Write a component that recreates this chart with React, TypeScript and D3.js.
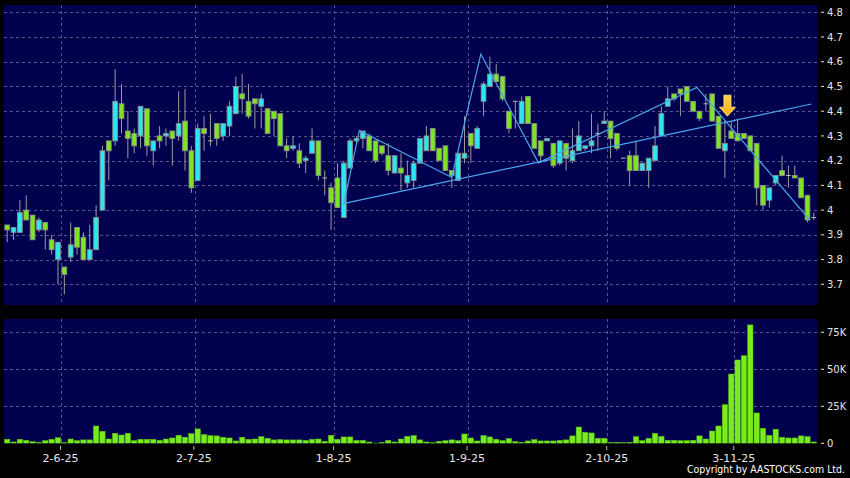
import * as d3 from 'd3'

// daily candles, oldest first
const OPEN = [
  3.94, 3.91, 3.91, 4.0, 3.98, 3.92, 3.95, 3.88, 3.8, 3.77, 3.81, 3.93, 3.89, 3.8,
  3.84, 4.0, 4.28, 4.28, 4.43, 4.32, 4.31, 4.3, 4.41, 4.24, 4.3, 4.3, 4.32, 4.3,
  4.36, 4.24, 4.12, 4.33, 4.28, 4.35, 4.3, 4.34, 4.39, 4.47, 4.44, 4.45, 4.42, 4.41,
  4.4, 4.39, 4.26, 4.25, 4.24, 4.2, 4.23, 4.28, 4.13, 4.09, 4.13, 3.97, 4.17, 4.28,
  4.29, 4.3, 4.28, 4.26, 4.22, 4.15, 4.17, 4.11, 4.12, 4.19, 4.24, 4.33, 4.25, 4.26,
  4.16, 4.12, 4.21, 4.31, 4.25, 4.44, 4.5, 4.55, 4.54, 4.4, 4.44, 4.35, 4.46, 4.35,
  4.28, 4.28, 4.27, 4.19, 4.27, 4.2, 4.24, 4.25, 4.26, 4.31, 4.35, 4.36, 4.31, 4.21,
  4.22, 4.22, 4.16, 4.16, 4.2, 4.3, 4.42, 4.47, 4.49, 4.5, 4.44, 4.4, 4.43, 4.47,
  4.38, 4.24, 4.32, 4.31, 4.31, 4.3, 4.27, 4.1, 4.04, 4.11, 4.16, 4.14, 4.14, 4.13,
  4.06, 3.97,
]
const HIGH = [
  3.94, 3.93, 4.04, 4.06, 3.98, 3.97, 3.95, 3.9, 3.87, 3.77, 3.95, 3.93, 3.91, 3.94,
  4.02, 4.26, 4.28, 4.57, 4.51, 4.4, 4.33, 4.42, 4.41, 4.28, 4.34, 4.33, 4.32, 4.48,
  4.49, 4.26, 4.35, 4.38, 4.39, 4.35, 4.35, 4.44, 4.54, 4.55, 4.51, 4.45, 4.47, 4.41,
  4.4, 4.39, 4.29, 4.3, 4.27, 4.22, 4.33, 4.28, 4.16, 4.11, 4.19, 4.2, 4.29, 4.3,
  4.32, 4.31, 4.28, 4.26, 4.27, 4.22, 4.23, 4.2, 4.2, 4.29, 4.34, 4.33, 4.25, 4.26,
  4.16, 4.23, 4.38, 4.31, 4.34, 4.52, 4.62, 4.59, 4.54, 4.4, 4.44, 4.46, 4.46, 4.35,
  4.28, 4.29, 4.27, 4.28, 4.27, 4.33, 4.36, 4.26, 4.39, 4.35, 4.4, 4.36, 4.31, 4.21,
  4.24, 4.28, 4.19, 4.21, 4.34, 4.42, 4.5, 4.47, 4.49, 4.5, 4.44, 4.4, 4.47, 4.47,
  4.38, 4.36, 4.36, 4.37, 4.31, 4.3, 4.27, 4.1, 4.09, 4.14, 4.22, 4.18, 4.18, 4.13,
  4.06, 3.99,
]
const LOW = [
  3.87, 3.88, 3.91, 3.96, 3.88, 3.91, 3.84, 3.82, 3.7, 3.66, 3.79, 3.82, 3.8, 3.8,
  3.84, 4.0, 4.12, 4.26, 4.31, 4.21, 4.23, 4.25, 4.22, 4.18, 4.25, 4.26, 4.18, 4.28,
  4.16, 4.07, 4.12, 4.24, 4.26, 4.26, 4.28, 4.3, 4.39, 4.39, 4.37, 4.33, 4.33, 4.31,
  4.3, 4.26, 4.21, 4.24, 4.17, 4.15, 4.23, 4.12, 4.06, 3.92, 4.01, 3.97, 4.17, 4.27,
  4.25, 4.24, 4.19, 4.22, 4.14, 4.15, 4.08, 4.09, 4.09, 4.19, 4.24, 4.24, 4.2, 4.16,
  4.09, 4.12, 4.19, 4.19, 4.25, 4.38, 4.5, 4.52, 4.44, 4.31, 4.33, 4.35, 4.35, 4.25,
  4.19, 4.28, 4.17, 4.18, 4.16, 4.19, 4.24, 4.24, 4.23, 4.24, 4.35, 4.21, 4.24, 4.21,
  4.1, 4.16, 4.16, 4.09, 4.2, 4.3, 4.42, 4.44, 4.38, 4.44, 4.4, 4.36, 4.4, 4.36,
  4.25, 4.13, 4.29, 4.28, 4.29, 4.24, 4.02, 4.0, 4.01, 4.1, 4.14, 4.09, 4.13, 4.05,
  3.95, 3.96,
]
const CLOSE = [
  3.92, 3.93, 3.99, 3.96, 3.88, 3.96, 3.92, 3.84, 3.87, 3.74, 3.86, 3.85, 3.8, 3.84,
  3.97, 4.24, 4.24, 4.44, 4.37, 4.29, 4.26, 4.42, 4.26, 4.28, 4.28, 4.31, 4.29, 4.35,
  4.24, 4.09, 4.33, 4.31, 4.28, 4.29, 4.35, 4.42, 4.5, 4.45, 4.38, 4.43, 4.45, 4.31,
  4.37, 4.26, 4.24, 4.26, 4.19, 4.21, 4.28, 4.14, 4.13, 4.03, 4.01, 4.19, 4.28, 4.29,
  4.32, 4.24, 4.2, 4.23, 4.16, 4.22, 4.15, 4.14, 4.19, 4.29, 4.3, 4.24, 4.2, 4.16,
  4.14, 4.23, 4.23, 4.26, 4.33, 4.51, 4.55, 4.52, 4.45, 4.33, 4.44, 4.44, 4.35, 4.25,
  4.22, 4.29, 4.18, 4.28, 4.21, 4.24, 4.3, 4.26, 4.28, 4.31, 4.36, 4.29, 4.25, 4.21,
  4.16, 4.16, 4.19, 4.21, 4.26, 4.39, 4.45, 4.45, 4.47, 4.44, 4.4, 4.37, 4.43, 4.36,
  4.25, 4.27, 4.29, 4.28, 4.29, 4.24, 4.09, 4.02, 4.09, 4.14, 4.14, 4.14, 4.13, 4.05,
  3.96, 3.97,
]
// thousands of shares
const VOLUME = [
  2.7, 0.9, 2.7, 2.0, 1.1, 0.7, 1.8, 2.7, 3.8, 0.5, 2.9, 1.8, 2.3, 2.3,
  11.7, 8.1, 2.9, 6.8, 5.6, 6.8, 1.8, 2.7, 2.7, 2.7, 2.0, 2.9, 3.6, 5.4,
  4.1, 6.5, 9.7, 5.9, 5.2, 5.0, 4.1, 3.6, 1.6, 4.1, 2.7, 2.9, 4.5, 3.4,
  2.3, 2.5, 2.3, 2.3, 2.3, 2.0, 2.7, 2.9, 1.4, 5.4, 2.7, 4.3, 4.3, 2.0,
  2.0, 0.9, 0.2, 0.7, 2.0, 0.9, 2.9, 4.7, 5.2, 2.3,
  0.9, 0.5, 1.4, 1.8, 2.3, 1.8, 6.3, 3.6, 1.6, 5.2, 4.3, 2.7, 1.8, 3.2,
  1.1, 0.7, 1.6, 2.5, 1.6, 1.6, 1.6, 2.0, 2.3, 5.0, 11.0, 7.4, 7.0, 3.4,
  3.4, 0.5, 0.7, 0.5, 0.7, 4.5, 1.8, 3.4, 6.8, 4.7, 2.0, 2.0, 1.8, 1.8,
  2.0, 5.0, 2.9, 8.3, 11.7, 26.1, 46.8, 56.3, 59.2, 80.0, 20.5, 10.1, 5.4, 9.5,
  4.1, 3.6, 3.6, 5.0, 4.5, 0.9,
]

const DATE_TICKS = [8, 29, 51, 72, 94, 114]
const DATE_LABELS = ['2-6-25', '2-7-25', '1-8-25', '1-9-25', '2-10-25', '3-11-25']
const PRICE_TICKS = [3.7, 3.8, 3.9, 4.0, 4.1, 4.2, 4.3, 4.4, 4.5, 4.6, 4.7, 4.8]
const VOL_TICKS = [0, 25, 50, 75]

// drawn lines, in (candle index, price)
const TREND_I = [52.9, 126.6]
const TREND_P = [4.026, 4.429]
const ZIGZAG_I = [53.0, 55.45, 70.0, 74.57, 83.64, 108.58, 126.4]
const ZIGZAG_P = [4.027, 4.321, 4.132, 4.631, 4.191, 4.496, 3.959]
const ARROW_I = 113.4
const ARROW_TOP = 4.465
const ARROW_TIP = 4.38

const W = 850
const H = 478
const LEFT = 4
const RIGHT = 817
const P_TOP = 5
const P_BOT = 305
const V_TOP = 319
const V_BOT = 443.5

const UP = '#2ce6f2'
const DOWN = '#7ee61e'
const GRID = '#56568c'
const TEXT = '#e6e6e6'
const LINE = '#4aa6ec'
const FONT = '"DejaVu Sans", Verdana, sans-serif'

export default function App() {
  const n = OPEN.length
  const x = d3.scaleLinear().domain([-0.5, n - 0.5]).range([LEFT, RIGHT])
  const bw = x(1) - x(0)
  const yP = d3.scaleLinear().domain([3.7, 4.8]).range([284.3, 12.3])
  const yV = d3.scaleLinear().domain([0, 75]).range([443.3, 332.3])

  const trendPath = d3.line<number>().x(d => x(TREND_I[d])).y(d => yP(TREND_P[d]))(d3.range(TREND_I.length))
  const zigPath = d3.line<number>().x(d => x(ZIGZAG_I[d])).y(d => yP(ZIGZAG_P[d]))(d3.range(ZIGZAG_I.length))

  // yellow marker arrow pointing down
  const ax = x(ARROW_I)
  const aTop = yP(ARROW_TOP)
  const aTip = yP(ARROW_TIP)
  const aNeck = aTip - 9
  const arrowPath = d3.path()
  arrowPath.moveTo(ax - 3.5, aTop)
  arrowPath.lineTo(ax + 3.5, aTop)
  arrowPath.lineTo(ax + 3.5, aNeck)
  arrowPath.lineTo(ax + 8, aNeck)
  arrowPath.lineTo(ax, aTip)
  arrowPath.lineTo(ax - 8, aNeck)
  arrowPath.lineTo(ax - 3.5, aNeck)
  arrowPath.closePath()

  const bodyW = bw - 1.6

  return (
    <svg width={W} height={H} style={{ position: 'absolute', left: 0, top: 0, display: 'block' }} fontFamily={FONT}>
      <defs>
        <clipPath id="clip-price"><rect x={LEFT} y={P_TOP} width={RIGHT - LEFT} height={P_BOT - P_TOP} /></clipPath>
        <clipPath id="clip-vol"><rect x={LEFT} y={V_TOP} width={RIGHT - LEFT} height={V_BOT - V_TOP} /></clipPath>
        <linearGradient id="arrow-grad" x1="0" y1="0" x2="0" y2="1">
          <stop offset="0%" stopColor="#ffd23a" />
          <stop offset="100%" stopColor="#ffb01a" />
        </linearGradient>
      </defs>
      <rect width={W} height={H} fill="#000" />
      <rect x={LEFT} y={P_TOP} width={RIGHT - LEFT} height={P_BOT - P_TOP} fill="#00004f" />
      <rect x={LEFT} y={V_TOP} width={RIGHT - LEFT} height={V_BOT - V_TOP} fill="#00004f" />

      {/* grid */}
      <g stroke={GRID} strokeDasharray="3,3" strokeWidth={1}>
        {PRICE_TICKS.map(t => (
          <line key={'ph' + t} x1={LEFT} x2={RIGHT} y1={Math.round(yP(t)) + 0.5} y2={Math.round(yP(t)) + 0.5} />
        ))}
        {VOL_TICKS.filter(t => t > 0).map(t => (
          <line key={'vh' + t} x1={LEFT} x2={RIGHT} y1={Math.round(yV(t)) + 0.5} y2={Math.round(yV(t)) + 0.5} />
        ))}
        {DATE_TICKS.map(i => {
          const gx = Math.round(x(i) + bw / 2) + 0.5
          return (
            <g key={'vg' + i}>
              <line x1={gx} x2={gx} y1={P_TOP} y2={P_BOT} />
              <line x1={gx} x2={gx} y1={V_TOP} y2={V_BOT} />
            </g>
          )
        })}
      </g>

      {/* candles */}
      <g clipPath="url(#clip-price)">
        {d3.range(n).map(i => {
          const cx = x(i)
          const o = OPEN[i]
          const c = CLOSE[i]
          const top = yP(Math.max(o, c))
          const bot = yP(Math.min(o, c))
          return (
            <g key={i}>
              <line x1={cx} x2={cx} y1={yP(HIGH[i])} y2={yP(LOW[i])} stroke="#9c9c9c" strokeWidth={1} />
              {o === c ? (
                <line x1={cx - bodyW / 2} x2={cx + bodyW / 2} y1={top} y2={top} stroke="#b4b4b4" strokeWidth={1} />
              ) : (
                <rect x={cx - bodyW / 2} y={top} width={bodyW} height={Math.max(1.5, bot - top)}
                  fill={c > o ? UP : DOWN} stroke="#8a8a8a" strokeWidth={0.9} />
              )}
            </g>
          )
        })}
        <path d={trendPath ?? ''} fill="none" stroke={LINE} strokeWidth={1.2} />
        <path d={zigPath ?? ''} fill="none" stroke={LINE} strokeWidth={1.2} />
        <path d={arrowPath.toString()} fill="url(#arrow-grad)" stroke="#fff0a0" strokeWidth={0.8} />
      </g>

      {/* volume */}
      <g clipPath="url(#clip-vol)">
        {VOLUME.map((v, i) => (
          <rect key={i} x={x(i) - (bw - 1) / 2} y={yV(v)} width={bw - 1} height={yV(0) - yV(v)}
            fill="#78ec1c" stroke="#5cc012" strokeWidth={0.5} />
        ))}
      </g>

      {/* right axes */}
      <g fill={TEXT} fontSize={10}>
        {PRICE_TICKS.map(t => (
          <g key={'pl' + t}>
            <line x1={821} x2={824} y1={yP(t)} y2={yP(t)} stroke={TEXT} />
            <text x={827} y={yP(t)} dy="0.36em">{d3.format('~g')(t)}</text>
          </g>
        ))}
        {VOL_TICKS.map(t => (
          <g key={'vl' + t}>
            <line x1={821} x2={824} y1={yV(t)} y2={yV(t)} stroke={TEXT} />
            <text x={827} y={yV(t)} dy="0.36em">{t === 0 ? '0' : `${t}K`}</text>
          </g>
        ))}
      </g>

      {/* date axis */}
      <g fill={TEXT} fontSize={11} textAnchor="middle">
        {DATE_TICKS.map((i, k) => {
          const tx = x(i) + 2.5
          return (
            <g key={'dl' + i}>
              <line x1={tx} x2={tx} y1={446} y2={450} stroke="#bbb" />
              <text x={tx} y={462}>{DATE_LABELS[k]}</text>
            </g>
          )
        })}
      </g>

      <text x={845} y={473} fill="#fff" fontSize={10.5} textAnchor="end" textLength={158} lengthAdjust="spacingAndGlyphs">
        Copyright by AASTOCKS.com Ltd.
      </text>
    </svg>
  )
}
